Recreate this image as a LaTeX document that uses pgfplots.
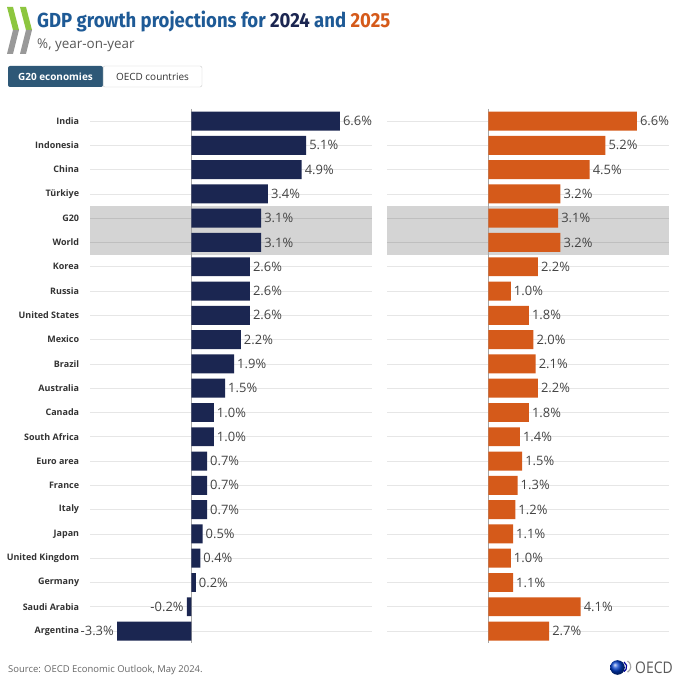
\documentclass[border=0pt]{standalone}
\usepackage{graphicx}
\usepackage{pgfplots}
\pgfplotsset{compat=1.18}
\usepackage{fontspec}
\setmainfont{Open Sans}
\newfontfamily\titlefont{Fira Sans}

\definecolor{navy}{HTML}{1B2651}
\definecolor{orng}{HTML}{D55A1A}
\definecolor{tblue}{HTML}{1E5A96}
\definecolor{btn}{HTML}{2E5877}
\definecolor{gridc}{HTML}{E6E6E6}
\definecolor{labc}{HTML}{333333}
\definecolor{valc}{HTML}{444444}
\definecolor{leaf}{HTML}{8DC63F}

\pgfplotsset{
  panel/.style={
    scale only axis,
    width=282bp, height=534.3bp,
    anchor=north west,
    xbar, bar width=0.78,
    xmin=-4.5, xmax=8.03,
    ymin=-0.5, ymax=21.5,
    y dir=reverse,
    enlargelimits=false,
    axis line style={draw=none},
    xtick=\empty,
    ytick={0,...,21},
    major tick length=0pt,
    ymajorgrids,
    grid style={gridc, line width=0.7bp},
    nodes near coords={\pgfmathprintnumber[fixed,fixed zerofill,precision=1,assume math mode=true]{\pgfplotspointmeta}\%},
    nodes near coords align=horizontal,
    every node near coord/.append style={font=\fontsize{13}{15}\selectfont, text=valc, inner sep=3bp},
  },
}

\begin{document}
\begin{tikzpicture}
\begin{scope}[x=1bp,y=1bp]
\fill[white] (0,0) rectangle (680,680);
\useasboundingbox (0,0) rectangle (680,680);

% logo chevrons
\foreach \dx in {0,13}{
  \fill[leaf] (7+\dx,673) -- (13+\dx,673) -- (19+\dx,650) -- (13+\dx,650) -- cycle;
  \fill[gray!80] (13+\dx,650) -- (19+\dx,650) -- (13+\dx,626) -- (7+\dx,626) -- cycle;
}

% title and subtitle
\node[anchor=base west, inner sep=0] at (37,680-27.7) {\resizebox{353bp}{16.5bp}{\titlefont\bfseries\color{tblue}GDP growth projections for \color{navy}2024 \color{tblue}and \color{orng}2025}};
\node[anchor=base west, inner sep=0, text=black!65] at (37,680-48.3) {\fontsize{13.5}{15}\selectfont \%, year-on-year};

% buttons
\fill[btn, rounded corners=2bp] (8,680-66) rectangle (103,680-87);
\node[text=white] at (55.5,680-76.5) {\fontsize{10}{12}\selectfont\bfseries G20 economies};
\draw[black!20, rounded corners=2bp] (103,680-66) rectangle (202,680-87);
\node[text=labc] at (152.5,680-76.5) {\fontsize{10}{12}\selectfont OECD countries};

% source and logo
\node[anchor=base west, inner sep=0, text=black!60] at (8,680-672.7) {\fontsize{9.5}{11}\selectfont Source: OECD Economic Outlook, May 2024.};
\shade[ball color=blue!70!cyan!80!black] (617.5,680-667.5) circle (7.3);
\draw[blue!60!black, line width=1.2bp] (624,680-662) arc (60:-60:5.5);
\draw[gray!70, line width=1.2bp] (627.5,680-661) arc (60:-60:6.5);
\node[anchor=base west, inner sep=0, text=black!65] at (635,680-673.3) {\resizebox{37.5bp}{11.6bp}{OECD}};
\end{scope}

% 2024 panel
\begin{axis}[panel, at={(90bp,571.1bp)},
  yticklabels={India,Indonesia,China,Türkiye,G20,World,Korea,Russia,United States,Mexico,Brazil,Australia,Canada,South Africa,Euro area,France,Italy,Japan,United Kingdom,Germany,Saudi Arabia,Argentina},
  yticklabel style={font=\fontsize{9}{11}\selectfont\bfseries, text=labc, inner sep=0pt, xshift=-10.7bp},
]
\fill[black, fill opacity=0.17] (axis cs:-4.5,3.5) rectangle (axis cs:8.03,5.5);
\draw[black!35, line width=0.8bp] (axis cs:0,-0.5) -- (axis cs:0,21.5);
\addplot[fill=navy, draw=none] coordinates {
(6.6,0) (5.1,1) (4.9,2) (3.4,3) (3.1,4) (3.1,5) (2.6,6) (2.6,7) (2.6,8) (2.2,9) (1.9,10)
(1.5,11) (1.0,12) (1.0,13) (0.7,14) (0.7,15) (0.7,16) (0.5,17) (0.4,18) (0.2,19) (-0.2,20) (-3.3,21)};
\end{axis}

% 2025 panel
\begin{axis}[panel, at={(387bp,571.1bp)}, yticklabels={}]
\fill[black, fill opacity=0.17] (axis cs:-4.5,3.5) rectangle (axis cs:8.03,5.5);
\draw[black!35, line width=0.8bp] (axis cs:0,-0.5) -- (axis cs:0,21.5);
\addplot[fill=orng, draw=none] coordinates {
(6.6,0) (5.2,1) (4.5,2) (3.2,3) (3.1,4) (3.2,5) (2.2,6) (1.0,7) (1.8,8) (2.0,9) (2.1,10)
(2.2,11) (1.8,12) (1.4,13) (1.5,14) (1.3,15) (1.2,16) (1.1,17) (1.0,18) (1.1,19) (4.1,20) (2.7,21)};
\end{axis}
\end{tikzpicture}
\end{document}
